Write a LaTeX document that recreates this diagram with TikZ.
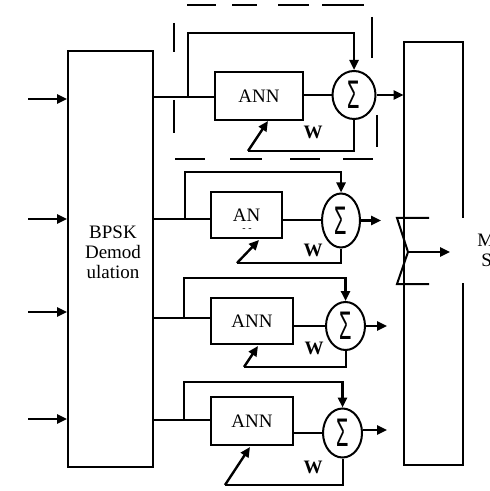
\documentclass[tikz,border=0pt]{standalone}
\usepackage{fontspec}
\setmainfont{Liberation Serif}
\newfontfamily\sigmafont{Liberation Sans}
\usetikzlibrary{arrows.meta, shapes.geometric}

\newcommand{\sumsign}{{\sigmafont\scalebox{1.05}[2.1]{Σ}}}

\tikzset{
  blk/.style={draw, line width=1pt, inner sep=0pt},
  adder/.style={draw, ellipse, line width=1pt, inner sep=0pt},
  wire/.style={line width=1pt},
  sig/.style={line width=1.2pt, -{Triangle[length=5pt, width=4.5pt]}},
  frame/.style={line width=1pt},
}

\begin{document}
\begin{tikzpicture}[x=0.5pt, y=-0.5pt, font=\fontsize{9.5}{10}\selectfont]
\useasboundingbox (0,0) rectangle (489,491);
\clip (0,0) rectangle (489,491);

% Draw the BPSK demodulator
\node (bpsk) at (110.5,259) [blk, minimum width=42.5pt, minimum height=208pt]{};
\node (bpsklbl) at (113,252) [align=center]{BPSK\\Demod\\ulation};
\foreach \y [count=\i] in {99,219,312,419}{
  \coordinate (in\i) at (28,\y);
  \draw[sig] (in\i) -- (in\i -| bpsk.west);
}

% Draw the output block (open on the right)
\node (rbox) at (433.5,253.5) [minimum width=29.5pt, minimum height=211.5pt, inner sep=0pt]{};
\draw[frame] ([yshift=17.75pt]rbox.east) -- (rbox.north east) -- (rbox.north west)
  -- (rbox.south west) -- (rbox.south east) -- ([yshift=-14.75pt]rbox.east);
\node (mlbl) at (477,240) [anchor=west, inner sep=0pt]{M};
\node (slbl) at (481,260) [anchor=west, inner sep=0pt]{S};

% Draw the combiner
\coordinate (cmb) at (408,252);
\coordinate (cmbout) at (450,252);
\draw[wire] (429,218) -- (397,218) -- (cmb) -- (397,284) -- (429,284);
\draw[sig] (cmb) -- (cmbout);

% Draw branch 1
\node (ann1) at (259,96) [blk, minimum width=44pt, minimum height=24pt]{ANN};
\node (sum1) at (354,95) [adder, minimum width=21.5pt, minimum height=24pt]{\sumsign};
\node (w1) at (313,132) {\textbf{W}};
\coordinate (br1) at (188,97);
\coordinate (top1) at (188,33);
\coordinate (fb1) at (248,151);
\coordinate (tip1) at (268,121);
\draw[wire] (bpsk.east |- br1) -- (ann1.west |- br1);
\draw[sig] (br1) -- (top1) -| (sum1.north);
\draw[wire] (ann1.east |- sum1.west) -- (sum1.west);
\draw[sig] (sum1.east) -- (sum1.east -| rbox.west);
\draw[wire] (sum1.south) |- (fb1);
\draw[sig] (fb1) -- (tip1);

% Draw the dashed frame round branch 1
\foreach \a/\b in {187/216, 232/257, 278/309, 322/364} \draw[frame] (\a,5) -- (\b,5);
\foreach \a/\b in {175/205, 230/262, 290/320, 343/373} \draw[frame] (\a,159) -- (\b,159);
\foreach \a/\b in {23/52, 100/133} \draw[frame] (174,\a) -- (174,\b);
\draw[frame] (372,17) -- (372,58);
\draw[frame] (377,115) -- (377,147);

% Draw branch 2
\node (ann2) at (246.5,215) [blk, minimum width=35.5pt, minimum height=23pt]{AN};
\node (ann2dots) at (247,230) [inner sep=0pt]{\tiny - -};
\node (sum2) at (341,220.5) [adder, minimum width=19pt, minimum height=27pt]{\sumsign};
\node (w2) at (313,250) {\textbf{W}};
\coordinate (br2) at (185,219);
\coordinate (top2) at (185,172);
\coordinate (fb2) at (237,263);
\coordinate (tip2) at (259,240);
\draw[wire] (bpsk.east |- br2) -- (ann2.west |- br2);
\draw[sig] (br2) -- (top2) -| (sum2.north);
\draw[wire] (ann2.east |- sum2.west) -- (sum2.west);
\coordinate (out2) at (381,220.5);
\draw[sig] (sum2.east) -- (out2);
\draw[wire] (sum2.south) |- (fb2);
\draw[sig] (fb2) -- (tip2);

% Draw branch 3
\node (ann3) at (252,321) [blk, minimum width=41pt, minimum height=23pt]{ANN};
\node (sum3) at (345.5,326) [adder, minimum width=19.5pt, minimum height=24pt]{\sumsign};
\node (w3) at (314,348) {\textbf{W}};
\coordinate (br3) at (184,318);
\coordinate (top3) at (184,278);
\coordinate (fb3) at (244,367);
\coordinate (tip3) at (258,346);
\draw[wire] (bpsk.east |- br3) -- (ann3.west |- br3);
\draw[sig] (br3) -- (top3) -| (sum3.north);
\draw[wire] (ann3.east |- sum3.west) -- (sum3.west);
\coordinate (out3) at (387,326);
\draw[sig] (sum3.east) -- (out3);
\draw[wire] (sum3.south) |- (fb3);
\draw[sig] (fb3) -- (tip3);

% Draw branch 4
\node (ann4) at (252,421) [blk, minimum width=41pt, minimum height=24pt]{ANN};
\node (sum4) at (342.5,433) [adder, minimum width=19.5pt, minimum height=24.5pt]{\sumsign};
\node (w4) at (313,467) {\textbf{W}};
\coordinate (br4) at (184,420);
\coordinate (top4) at (184,382);
\coordinate (fb4) at (225,485);
\coordinate (tip4) at (250,447);
\draw[wire] (bpsk.east |- br4) -- (ann4.west |- br4);
\draw[sig] (br4) -- (top4) -| (sum4.north);
\draw[wire] (ann4.east |- sum4.west) -- (sum4.west);
\coordinate (out4) at (387,430);
\draw[sig] (sum4.east |- out4) -- (out4);
\draw[wire] (sum4.south) |- (fb4);
\draw[sig] (fb4) -- (tip4);
\end{tikzpicture}
\end{document}
